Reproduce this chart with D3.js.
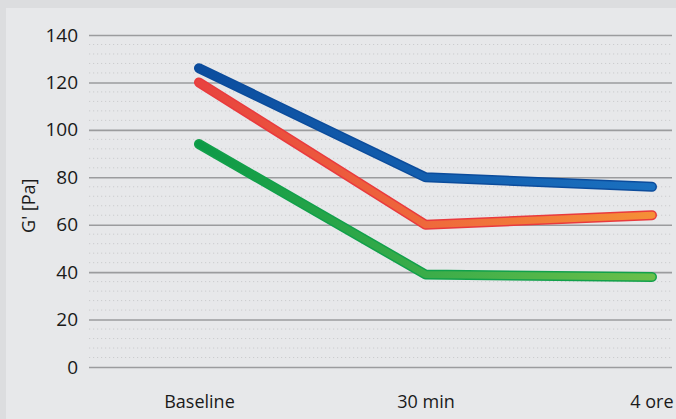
<!DOCTYPE html>
<html>
<head>
<meta charset="utf-8">
<script src="https://cdn.jsdelivr.net/npm/d3@7"></script>
<style>
  body { margin: 0; background: #dcdddf; }
  svg { display: block; }
  text { font-family: "Open Sans", sans-serif; fill: #1a1a1a; }
</style>
</head>
<body>
<svg id="chart" width="676" height="419"></svg>
<script>
// data
const categories = ["Baseline", "30 min", "4 ore"];
const blueValues = [126, 80, 76];
const redValues = [120, 60, 64];
const greenValues = [94, 39, 38];
const yTicks = [0, 20, 40, 60, 80, 100, 120, 140];

const series = [
  { name: "blue", values: blueValues, border: "#0b4c9c", from: "#0c4d9e", to: "#1a70bf" },
  { name: "red", values: redValues, border: "#e93a3d", from: "#e8433f", to: "#f58f37" },
  { name: "green", values: greenValues, border: "#11a04a", from: "#0c9a47", to: "#6abf4b" }
];

const width = 676, height = 419;
const margin = { left: 89, right: 4, top: 35, bottom: 52 };

const svg = d3.select("#chart");

// light panel
svg.append("rect")
  .attr("x", 6).attr("y", 8)
  .attr("width", width - 6).attr("height", height - 8)
  .attr("fill", "#e7e8ea");

const x = d3.scalePoint()
  .domain(categories)
  .range([199, 652]);

const y = d3.scaleLinear()
  .domain([0, 140])
  .range([height - margin.bottom, margin.top]);

// minor dotted grid every 4
const minor = d3.range(0, 140, 4).filter(d => d % 20 !== 0);
svg.append("g")
  .selectAll("line")
  .data(minor)
  .enter()
  .append("line")
  .attr("x1", margin.left).attr("x2", width - margin.right)
  .attr("y1", d => y(d)).attr("y2", d => y(d))
  .attr("stroke", "#cbccce")
  .attr("stroke-width", 1)
  .attr("stroke-dasharray", "1.2,2.8");

// major grid + y axis labels
const yAxis = svg.append("g")
  .attr("transform", "translate(" + margin.left + ",0)")
  .call(
    d3.axisLeft(y)
      .tickValues(yTicks)
      .tickSize(-(width - margin.right - margin.left))
      .tickPadding(11)
  );
yAxis.select(".domain").remove();
yAxis.selectAll(".tick line")
  .attr("stroke", "#9b9c9e")
  .attr("stroke-width", 1.6);
yAxis.selectAll(".tick text")
  .style("font-family", "'Open Sans', sans-serif")
  .style("font-size", "19px")
  .style("font-weight", 500)
  .attr("fill", "#1a1a1a");

// x labels
const xAxis = svg.append("g")
  .attr("transform", "translate(0," + (height - margin.bottom) + ")")
  .call(d3.axisBottom(x).tickSize(0).tickPadding(28));
xAxis.select(".domain").remove();
xAxis.selectAll(".tick text")
  .style("font-family", "'Open Sans', sans-serif")
  .style("font-size", "18px")
  .style("font-weight", 500)
  .attr("fill", "#1a1a1a");
xAxis.selectAll(".tick text")
  .filter(d => d === "4 ore")
  .attr("text-anchor", "end")
  .attr("dx", 21);

// y title
svg.append("text")
  .attr("transform", "translate(35," + y(68) + ") rotate(-90)")
  .attr("text-anchor", "middle")
  .style("font-size", "18px")
  .style("font-weight", 500)
  .text("G' [Pa]");

// gradients
const defs = svg.append("defs");
series.forEach(s => {
  const g = defs.append("linearGradient")
    .attr("id", "grad-" + s.name)
    .attr("gradientUnits", "userSpaceOnUse")
    .attr("x1", x(categories[0])).attr("x2", x(categories[categories.length - 1]))
    .attr("y1", 0).attr("y2", 0);
  g.append("stop").attr("offset", "0%").attr("stop-color", s.from);
  g.append("stop").attr("offset", "100%").attr("stop-color", s.to);
});

const line = d3.line()
  .x((d, i) => x(categories[i]))
  .y(d => y(d));

const lines = svg.append("g")
  .selectAll("g")
  .data(series)
  .enter()
  .append("g");

lines.append("path")
  .attr("d", d => line(d.values))
  .attr("fill", "none")
  .attr("stroke", d => d.border)
  .attr("stroke-width", 10)
  .attr("stroke-linecap", "round")
  .attr("stroke-linejoin", "round");

lines.append("path")
  .attr("d", d => line(d.values))
  .attr("fill", "none")
  .attr("stroke", d => "url(#grad-" + d.name + ")")
  .attr("stroke-width", 7)
  .attr("stroke-linecap", "round")
  .attr("stroke-linejoin", "round");
</script>
</body>
</html>
